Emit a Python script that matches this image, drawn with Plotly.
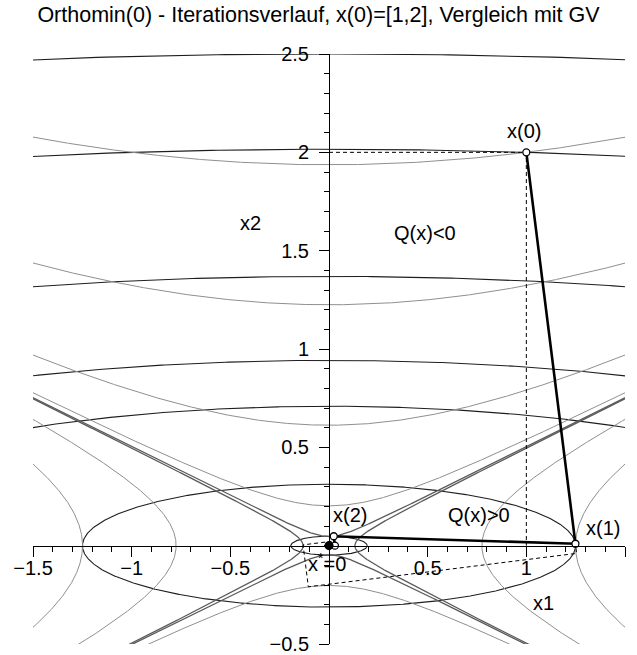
import numpy as np
import plotly.graph_objects as go

# Model problem A x = 0 with A = diag(1, -4)
#   Q(x)      = x1^2 - 4 x2^2           (indefinite form, grey hyperbolas)
#   |A x|^2   = x1^2 + 16 x2^2          (residual norm, black ellipses)
ELLIPSE_LEVELS = [100.0, 65.0, 30.0, 14.2, 8.04, 1.561, 0.0375]
HYPERBOLA_LEVELS = [-15.0, -6.0, -1.5, -0.164, 0.6, 1.56]
NEAR_ZERO_LEVELS = [0.0172, -0.00865]

# Orthomin(0) iterates x(0), x(1), x(2), ...
ORTHO_X1 = [1.0, 1.2488, 0.0240, 0.0300, 0.0006]
ORTHO_X2 = [2.0, 0.0098, 0.0480, 0.0002, 0.0012]

# Gradient method (GV) iterates for comparison
GV_X1 = [1.0, 1.2549, -0.1047, -0.1314, 0.0110, 0.0138, -0.0012]
GV_X2 = [2.0, -0.0392, -0.2092, 0.0041, 0.0219, -0.0004, -0.0023]

# Start point x(0)=[1,2] and its projections onto the axes
START = (1.0, 2.0)

X_TICKS = [-1.5, -1.0, -0.5, 0.5, 1.0, 1.5]
X_TICKTEXT = ["\u22121.5", "\u22121", "\u22120.5", "0.5", "1", "1.5"]
Y_TICKS = [-0.5, 0.5, 1.0, 1.5, 2.0, 2.5]
Y_TICKTEXT = ["\u22120.5", "0.5", "1", "1.5", "2", "2.5"]

LABELS = [
    ("x2", -0.397, 1.64),
    ("Q(x)<0", 0.484, 1.59),
    ("x(0)", 0.99, 2.11),
    ("x(2)", 0.108, 0.156),
    ("Q(x)>0", 0.76, 0.156),
    ("x(1)", 1.39, 0.09),
    ("x<sup>*</sup>=0", -0.01, -0.085),
    ("x1", 1.088, -0.29),
]

FONT = "Liberation Sans, Arial, sans-serif"
ELLIPSE_COLOR = "#1e1e1e"
HYPER_COLOR = "#8f8f8f"
ZERO_COLOR = "#5a5a5a"

fig = go.Figure()

t = np.linspace(0, 2 * np.pi, 1441)
for c in ELLIPSE_LEVELS:
    r = np.sqrt(c)
    fig.add_trace(go.Scatter(x=r * np.cos(t), y=r / 4 * np.sin(t), mode="lines",
                             line=dict(color=ELLIPSE_COLOR, width=1.1),
                             hoverinfo="skip", showlegend=False))


def hyperbola(q):
    """Both branches of x1^2 - 4 x2^2 = q inside the view."""
    branches = []
    if q < 0:
        xs = np.linspace(-1.6, 1.6, 801)
        ys = np.sqrt((xs ** 2 - q) / 4)
        branches += [(xs, ys), (xs, -ys)]
    else:
        ys = np.linspace(-0.6, 2.6, 1601)
        xs = np.sqrt(q + 4 * ys ** 2)
        branches += [(xs, ys), (-xs, ys)]
    return branches


for q in HYPERBOLA_LEVELS:
    for xs, ys in hyperbola(q):
        fig.add_trace(go.Scatter(x=xs, y=ys, mode="lines",
                                 line=dict(color=HYPER_COLOR, width=1),
                                 hoverinfo="skip", showlegend=False))

for q in NEAR_ZERO_LEVELS:
    for xs, ys in hyperbola(q):
        fig.add_trace(go.Scatter(x=xs, y=ys, mode="lines",
                                 line=dict(color=ZERO_COLOR, width=1.3),
                                 hoverinfo="skip", showlegend=False))

# Dashed projections of the start point onto the axes
fig.add_trace(go.Scatter(x=[0, START[0], START[0]], y=[START[1], START[1], 0],
                         mode="lines", line=dict(color="black", width=1, dash="4px,3px"),
                         hoverinfo="skip", showlegend=False))

# Gradient method path (dashed)
fig.add_trace(go.Scatter(x=GV_X1, y=GV_X2, mode="lines",
                         line=dict(color="black", width=1, dash="4px,3px"),
                         hoverinfo="skip", showlegend=False))

# Orthomin(0) path
fig.add_trace(go.Scatter(x=ORTHO_X1, y=ORTHO_X2, mode="lines",
                         line=dict(color="black", width=2.6),
                         hoverinfo="skip", showlegend=False))
fig.add_trace(go.Scatter(x=ORTHO_X1, y=ORTHO_X2, mode="markers",
                         marker=dict(symbol="circle", size=7, color="white",
                                     line=dict(color="black", width=1.3)),
                         hoverinfo="skip", showlegend=False))
# Solution x* = 0
fig.add_trace(go.Scatter(x=[0], y=[0], mode="markers",
                         marker=dict(symbol="circle", size=9, color="black"),
                         hoverinfo="skip", showlegend=False))

for text, x, y in LABELS:
    fig.add_annotation(x=x, y=y, text=text, showarrow=False,
                       font=dict(family=FONT, size=20, color="black"),
                       xanchor="center", yanchor="middle")

axis_common = dict(
    anchor="free", showline=True, linecolor="black", linewidth=1,
    ticks="outside", ticklen=10, tickwidth=1, tickcolor="black",
    tickmode="array", showgrid=False, zeroline=False, automargin=False,
    tickfont=dict(family=FONT, size=20, color="black"),
    minor=dict(ticks="outside", ticklen=5, tickwidth=1, tickcolor="black",
               tickmode="linear", tick0=0, dtick=0.1, showgrid=False),
)

fig.update_layout(
    width=637, height=655,
    margin=dict(l=33, r=12, t=54, b=11, autoexpand=False),
    paper_bgcolor="white", plot_bgcolor="white",
    font=dict(family=FONT, color="black"),
    title=dict(text="Orthomin(0) - Iterationsverlauf, x(0)=[1,2], Vergleich mit GV",
               x=0.5, xanchor="center", y=1 - 14 / 655, yanchor="middle",
               font=dict(family=FONT, size=21.5, color="black")),
    xaxis=dict(range=[-1.5, 1.5], position=1 / 6, side="bottom",
               tickvals=X_TICKS, ticktext=X_TICKTEXT, ticklabelstandoff=-6,
               **axis_common),
    yaxis=dict(range=[-0.5, 2.5], position=0.5, side="left",
               tickvals=Y_TICKS, ticktext=Y_TICKTEXT, ticklabelstandoff=6,
               **axis_common),
)

fig.write_html("out.html")
